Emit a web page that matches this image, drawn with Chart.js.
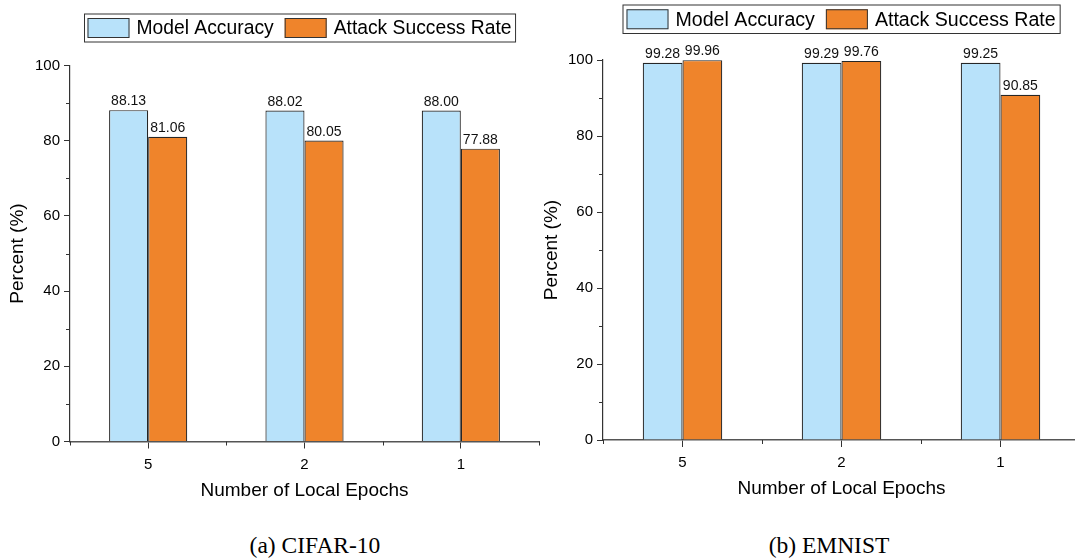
<!DOCTYPE html>
<html>
<head>
<meta charset="utf-8">
<script src="https://cdn.jsdelivr.net/npm/chart.js@4.4.1/dist/chart.umd.min.js"></script>
<style>
  html, body { margin: 0; padding: 0; background: #fff; overflow: hidden; }
  body { width: 1075px; height: 559px; position: relative; }
  .panel { position: absolute; top: 0; width: 545px; height: 502px; }
  .caption {
    position: absolute; top: 531px; line-height: 28px;
    font-family: "Liberation Serif", "Times New Roman", serif; font-size: 23.5px;
    color: #000; transform: translateX(-50%); white-space: nowrap;
  }
</style>
</head>
<body>
<div class="panel" style="left:0"><canvas id="cifar" width="545" height="502"></canvas></div>
<div class="panel" style="left:540px"><canvas id="emnist" width="545" height="502"></canvas></div>
<div class="caption" style="left:315px">(a) CIFAR-10</div>
<div class="caption" style="left:829px">(b) EMNIST</div>
<script>
// data
const epochs = ["5", "2", "1"];
const cifarAccuracy = [88.13, 88.02, 88.00];
const cifarAttack = [81.06, 80.05, 77.88];
const emnistAccuracy = [99.28, 99.29, 99.25];
const emnistAttack = [99.96, 99.76, 90.85];
const yMax = 100;
const yStep = 20;
const yMinorTicks = [10, 30, 50, 70, 90];

const FONT = '"Liberation Sans", Arial, sans-serif';
const BLUE = "#b8e2fa";
const ORANGE = "#ef842b";
const EDGE = "#262626";

// legend in a thin box above the plot
const boxedLegend = {
  id: "boxedLegend",
  afterDraw(chart, args, opts) {
    const ctx = chart.ctx;
    ctx.save();
    ctx.font = opts.fontSize + "px " + FONT;
    ctx.textBaseline = "middle";
    const items = chart.data.datasets;
    let total = opts.pad * 2;
    items.forEach((ds, i) => {
      total += opts.swatchW + opts.gap + ctx.measureText(ds.label).width;
      if (i < items.length - 1) total += opts.itemGap;
    });
    ctx.strokeStyle = "#333";
    ctx.lineWidth = 1;
    ctx.strokeRect(opts.left + 0.5, opts.top + 0.5, total, opts.height);
    let x = opts.left + opts.pad;
    const mid = opts.top + opts.height / 2 + 0.5;
    items.forEach((ds) => {
      ctx.fillStyle = ds.backgroundColor;
      ctx.fillRect(x, mid - opts.swatchH / 2, opts.swatchW, opts.swatchH);
      ctx.strokeStyle = "#333";
      ctx.strokeRect(x + 0.5, mid - opts.swatchH / 2 + 0.5, opts.swatchW - 1, opts.swatchH - 1);
      x += opts.swatchW + opts.gap;
      ctx.fillStyle = "#000";
      ctx.fillText(ds.label, x, mid + 1);
      x += ctx.measureText(ds.label).width + opts.itemGap;
    });
    ctx.restore();
  },
};

// values printed over the bars
const valueLabels = {
  id: "valueLabels",
  afterDatasetsDraw(chart) {
    const ctx = chart.ctx;
    ctx.save();
    ctx.font = "14px " + FONT;
    ctx.fillStyle = "#111";
    ctx.textAlign = "center";
    ctx.textBaseline = "alphabetic";
    chart.data.datasets.forEach((ds, i) => {
      chart.getDatasetMeta(i).data.forEach((bar, j) => {
        ctx.fillText(ds.data[j].toFixed(2), bar.x, bar.y - 5);
      });
    });
    ctx.restore();
  },
};

// short ticks: odd tens on y, category edges on x
const minorTicks = {
  id: "minorTicks",
  afterDraw(chart) {
    const { ctx, scales } = chart;
    const x = scales.x;
    const y = scales.y;
    ctx.save();
    ctx.strokeStyle = "#333";
    ctx.lineWidth = 1;
    ctx.beginPath();
    yMinorTicks.forEach((v) => {
      const py = Math.round(y.getPixelForValue(v)) + 0.5;
      ctx.moveTo(x.left - 4, py);
      ctx.lineTo(x.left, py);
    });
    const step = x.getPixelForValue(1) - x.getPixelForValue(0);
    for (let i = 0; i <= epochs.length; i++) {
      const px = Math.round(x.getPixelForValue(0) - step / 2 + i * step) + 0.5;
      ctx.moveTo(px, y.bottom);
      ctx.lineTo(px, y.bottom + 4);
    }
    ctx.stroke();
    ctx.restore();
  },
};

const makeChart = (id, accuracy, attack, lay) => {
  const ctx = document.getElementById(id).getContext("2d");
  return new Chart(ctx, {
    type: "bar",
    data: {
      labels: epochs,
      datasets: [
        {
          label: "Model Accuracy",
          data: accuracy,
          backgroundColor: BLUE,
          borderColor: EDGE,
          borderWidth: 1.2,
          categoryPercentage: 0.5,
          barPercentage: 1,
        },
        {
          label: "Attack Success Rate",
          data: attack,
          backgroundColor: ORANGE,
          borderColor: EDGE,
          borderWidth: 1.2,
          categoryPercentage: 0.5,
          barPercentage: 1,
        },
      ],
    },
    options: {
      responsive: false,
      animation: false,
      layout: {
        padding: { top: lay.top, right: lay.right, left: 0, bottom: 0 },
      },
      plugins: {
        legend: { display: false },
        tooltip: { enabled: false },
        boxedLegend: lay.legend,
      },
      scales: {
        x: {
          offset: true,
          afterFit: (s) => { s.height = lay.xHeight; },
          grid: { offset: false, drawOnChartArea: false, tickLength: 7, color: "#333" },
          border: { display: true, color: "#555", width: 1.5 },
          ticks: { color: "#000", padding: 7, font: { family: FONT, size: 15 } },
          title: {
            display: true,
            text: "Number of Local Epochs",
            color: "#000",
            padding: { top: 0, bottom: lay.xTitlePad },
            font: { family: FONT, size: 19 },
          },
        },
        y: {
          min: 0,
          max: yMax,
          afterFit: (s) => { s.width = lay.yWidth; },
          grid: { drawOnChartArea: false, tickLength: 6, color: "#333" },
          border: { display: true, color: "#333", width: 1.2 },
          ticks: { stepSize: yStep, color: "#000", padding: 4, font: { family: FONT, size: 15 } },
          title: {
            display: true,
            text: "Percent (%)",
            color: "#000",
            padding: { top: lay.yTitlePad, bottom: 0 },
            font: { family: FONT, size: 19 },
          },
        },
      },
    },
    plugins: [valueLabels, minorTicks, boxedLegend],
  });
};

makeChart("cifar", cifarAccuracy, cifarAttack, {
  top: 65.5, right: 6, yWidth: 70, xHeight: 60.5, xTitlePad: 0, yTitlePad: 6.5,
  legend: { left: 84, top: 13.5, height: 28, pad: 3.5, swatchW: 42, swatchH: 20, gap: 7, itemGap: 11, fontSize: 19.3 },
});
makeChart("emnist", emnistAccuracy, emnistAttack, {
  top: 60, right: 5, yWidth: 63, xHeight: 62, xTitlePad: 1.5, yTitlePad: 0.5,
  legend: { left: 82.5, top: 4.5, height: 28.5, pad: 4, swatchW: 42, swatchH: 20, gap: 7, itemGap: 11, fontSize: 19.6 },
});
</script>
</body>
</html>
